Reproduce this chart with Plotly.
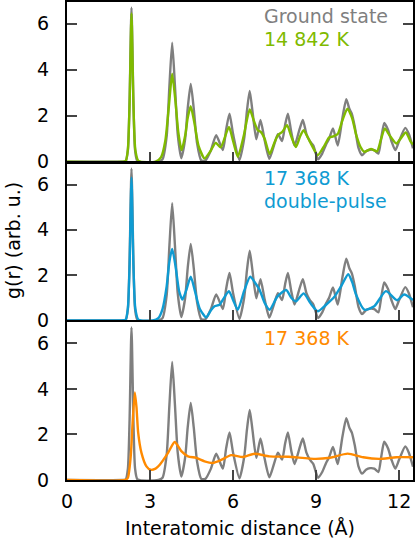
import plotly.graph_objects as go
from plotly.subplots import make_subplots

# ground state g(r), same curve in all three panels
r_gs = [0, 2.0, 2.12, 2.20, 2.26, 2.33, 2.40, 2.46, 2.55, 3.3, 3.45, 3.6, 3.70, 3.80, 3.90, 4.0,
        4.13, 4.27, 4.36, 4.47, 4.58, 4.70, 4.85, 5.0, 5.2, 5.39, 5.63, 5.75, 5.87, 6.0, 6.23,
        6.4, 6.50, 6.60, 6.70, 6.84, 6.99, 7.14, 7.31, 7.50, 7.62, 7.77, 7.88, 7.98, 8.10, 8.22,
        8.40, 8.52, 8.65, 8.78, 8.90, 9.07, 9.22, 9.36, 9.47, 9.61, 9.78, 9.95, 10.09, 10.2,
        10.29, 10.40, 10.53, 10.66, 10.8, 10.95, 11.1, 11.25, 11.35, 11.46, 11.6, 11.72, 11.86,
        12.0, 12.22, 12.35, 12.5]
g_gs = [0, 0, 0.02, 0.5, 2.6, 6.7, 2.6, 0.5, 0.02, 0.0, 0.1, 1.1, 3.3, 5.18, 3.3, 1.2,
        0.15, 1.0, 2.3, 3.38, 2.3, 0.8, 0.05, 0.05, 0.5, 1.15, 0.5, 1.4, 2.09, 1.2, 0.07,
        1.0, 2.2, 3.08, 2.2, 0.97, 1.82, 0.93, 0.12, 0.8, 1.2, 0.9, 1.6, 2.09, 1.3, 0.7,
        1.4, 1.82, 1.2, 0.88, 0.7, 0.1, 0.35, 0.75, 1.0, 1.45, 0.7, 1.9, 2.72, 2.3,
        2.08, 1.5, 0.6, 0.28, 0.45, 0.52, 0.5, 0.35, 1.0, 1.68, 1.38, 0.9, 0.5,
        0.9, 1.47, 1.2, 0.58]

# 14 842 K
r_14k = [0, 2.0, 2.12, 2.20, 2.26, 2.33, 2.40, 2.47, 2.58, 3.2, 3.4, 3.55, 3.68, 3.80, 3.92,
         4.02, 4.14, 4.28, 4.36, 4.47, 4.6, 4.75, 4.97, 5.18, 5.37, 5.55, 5.85, 6.0, 6.17,
         6.38, 6.60, 6.76, 6.89, 7.0, 7.14, 7.32, 7.5, 7.62, 7.78, 7.95, 8.1, 8.27, 8.42,
         8.55, 8.70, 8.85, 9.06, 9.3, 9.47, 9.62, 9.78, 9.95, 10.13, 10.3, 10.44, 10.6,
         10.74, 10.98, 11.2, 11.35, 11.48, 11.65, 11.9, 12.05, 12.24, 12.42, 12.5]
g_14k = [0, 0, 0.03, 0.55, 2.5, 6.45, 2.5, 0.5, 0.03, 0.0, 0.2, 0.9, 2.4, 3.83, 2.6,
         1.3, 0.5, 1.2, 1.9, 2.41, 1.7, 0.7, 0.14, 0.45, 0.82, 0.62, 1.51, 0.9, 0.21,
         1.1, 2.27, 1.75, 1.37, 1.3, 1.0, 0.33, 0.85, 1.15, 1.3, 1.59, 1.1, 0.64, 1.1,
         1.37, 1.05, 0.7, 0.28, 0.7, 1.05, 1.1, 1.2, 1.8, 2.31, 1.9, 1.2, 0.65,
         0.43, 0.55, 0.45, 1.0, 1.44, 1.15, 0.79, 1.0, 1.27, 0.86, 0.75]

# 17 368 K double-pulse
r_dp = [0, 2.0, 2.12, 2.20, 2.26, 2.33, 2.40, 2.47, 2.58, 3.1, 3.3, 3.45, 3.6, 3.70, 3.80,
        3.92, 4.05, 4.17, 4.3, 4.47, 4.62, 4.8, 5.03, 5.2, 5.33, 5.51, 5.7, 5.85, 6.0, 6.17,
        6.4, 6.62, 6.8, 6.95, 7.14, 7.32, 7.6, 7.92, 8.1, 8.27, 8.55, 8.8, 9.06, 9.36, 9.66,
        9.9, 10.16, 10.3, 10.44, 10.74, 11.1, 11.52, 11.92, 12.18, 12.5]
g_dp = [0, 0, 0.03, 0.55, 2.4, 6.3, 2.4, 0.5, 0.03, 0, 0.1, 0.5, 1.5, 2.6, 3.16,
        2.4, 1.3, 0.92, 1.3, 1.93, 1.3, 0.5, 0.13, 0.45, 0.62, 0.69, 1.05, 1.29, 0.9, 0.47,
        1.3, 1.93, 1.65, 1.37, 0.77, 0.47, 1.05, 1.34, 1.0, 0.84, 1.19, 0.75, 0.4, 0.69, 1.04,
        1.5, 2.04, 1.7, 1.14, 0.47, 0.62, 1.29, 0.89, 1.14, 0.9]

# 17 368 K
r_17k = [0, 2.1, 2.2, 2.3, 2.37, 2.45, 2.51, 2.57, 2.69, 2.87, 3.02, 3.2, 3.35, 3.65, 3.89,
         4.13, 4.37, 4.67, 4.97, 5.27, 5.57, 5.93, 6.35, 6.77, 7.31, 8.0, 8.99, 9.5, 10.14,
         10.7, 11.28, 11.9, 12.5]
g_17k = [0, 0, 0.1, 1.0, 2.5, 3.85, 3.2, 2.09, 1.19, 0.6, 0.45, 0.5, 0.67, 1.19, 1.67,
         1.27, 1.04, 0.97, 0.82, 0.75, 0.88, 1.09, 1.01, 1.15, 1.04, 1.02, 0.93, 0.98, 1.16,
         1.0, 0.93, 1.0, 1.0]

x_ticks = [0, 3, 6, 9, 12]
y_ticks = [0, 2, 4, 6]

GRAY = "#7f7f7f"
GREEN = "#7fba00"
BLUE = "#0f9bd2"
ORANGE = "#ff8a00"
FONT = "DejaVu Sans"

fig = make_subplots(rows=3, cols=1, shared_xaxes=True, vertical_spacing=0.003)

panels = [(r_14k, g_14k, GREEN), (r_dp, g_dp, BLUE), (r_17k, g_17k, ORANGE)]
for i, (rx, gy, col) in enumerate(panels, start=1):
    fig.add_trace(go.Scatter(x=r_gs, y=g_gs, mode="lines", line=dict(color=GRAY, width=2.4,
                  shape="spline", smoothing=0.6), showlegend=False), row=i, col=1)
    fig.add_trace(go.Scatter(x=rx, y=gy, mode="lines", line=dict(color=col, width=2.4,
                  shape="spline", smoothing=0.6), showlegend=False), row=i, col=1)

domains = [[0.666, 1.0], [0.334, 0.663], [0.0, 0.331]]
for i in range(1, 4):
    fig.update_yaxes(range=[0, 6.95], tickvals=y_ticks, ticks="inside", ticklen=10, tickwidth=2,
                     showline=True, linewidth=2, linecolor="black", mirror="ticks",
                     showgrid=False, zeroline=False, domain=domains[i - 1], automargin=False,
                     ticklabelstandoff=12, row=i, col=1)
    fig.update_xaxes(range=[0, 12.5], tickvals=x_ticks, ticks="inside", ticklen=10, tickwidth=2,
                     showline=True, linewidth=2, linecolor="black", mirror=True, automargin=False,
                     showgrid=False, zeroline=False, row=i, col=1)

fig.update_xaxes(ticklabelstandoff=3, row=3, col=1)

# axis titles as annotations so they sit where the reference has them
fig.add_annotation(text="Interatomic distance (Å)", xref="paper", yref="paper", x=0.5, y=0,
                   yshift=-35, xanchor="center", yanchor="top", showarrow=False,
                   font=dict(size=19, family=FONT, color="black"))
fig.add_annotation(text="g(r) (arb. u.)", xref="paper", yref="paper", x=0, y=0.5,
                   xshift=-54, xanchor="center", yanchor="middle", textangle=-90,
                   showarrow=False, font=dict(size=19, family=FONT, color="black"))

ann = [("Ground state", GRAY, 1.0, 1), ("14 842 K", GREEN, 1.0, 24),
       ("17 368 K", BLUE, 0.663, 2), ("double-pulse", BLUE, 0.663, 25),
       ("17 368 K", ORANGE, 0.331, 3)]
for txt, col, ytop, dy in ann:
    fig.add_annotation(text=txt, xref="paper", yref="paper", x=0.565, y=ytop, yshift=-dy,
                       xanchor="left", yanchor="top", showarrow=False,
                       font=dict(color=col, size=19, family=FONT))

fig.update_layout(width=415, height=542, margin=dict(l=67, r=2, t=2, b=62),
                  plot_bgcolor="white", paper_bgcolor="white",
                  font=dict(family=FONT, size=19, color="black"))
# the page body has a default 8px margin; drop it so the figure fills the window
fig.write_html("out.html", config={"displayModeBar": False},
               post_script="document.body.style.margin='0';")
